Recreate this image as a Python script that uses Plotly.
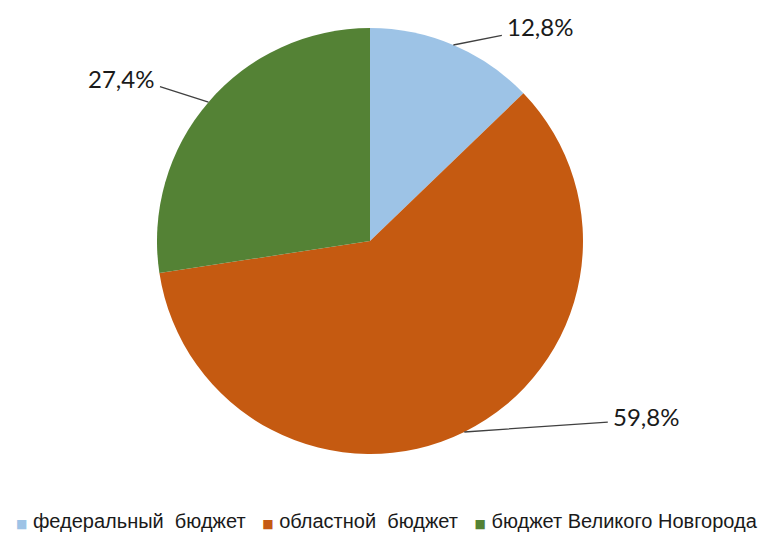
import math
import plotly.graph_objects as go

# ---- data ----
categories = ["федеральный  бюджет", "областной  бюджет", "бюджет Великого Новгорода"]
shares = [12.8, 59.8, 27.4]
label_texts = ["12,8%", "59,8%", "27,4%"]

# ---- style ----
colors = ["#9DC3E6", "#C55A11", "#548235"]
W, H = 760, 534
CX, CY, R = 370, 241, 213            # pie centre / radius in pixels
label_offsets = [(50, -10), (145, -10), (-50, -16)]   # leader-line end offsets (px)
text_lift = [8, 5, 8]
LEGEND_X, LEGEND_Y = 387, 521

fig = go.Figure(go.Pie(
    labels=categories,
    values=shares,
    sort=False,
    direction="clockwise",
    rotation=0,
    marker=dict(colors=colors, line=dict(width=0)),
    textinfo="none",
    hoverinfo="label+percent",
    showlegend=False,
    domain=dict(x=[(CX - R) / W, (CX + R) / W], y=[1 - (CY + R) / H, 1 - (CY - R) / H]),
))

total = sum(shares)
cum = 0
for val, txt, (dx, dy), lift in zip(shares, label_texts, label_offsets, text_lift):
    mid = (cum + val / 2) / total * 2 * math.pi
    cum += val
    px = CX + R * math.sin(mid)
    py = CY - R * math.cos(mid)
    fig.add_annotation(
        x=px / W, y=1 - py / H, xref="paper", yref="paper",
        text="", showarrow=True, arrowhead=0, arrowwidth=1.3, arrowcolor="#404040",
        ax=dx, ay=dy, axref="pixel", ayref="pixel",
    )
    fig.add_annotation(
        x=(px + dx + (2 if dx > 0 else -2)) / W, y=1 - (py + dy - lift) / H, xref="paper", yref="paper",
        text=txt, showarrow=False,
        xanchor="left" if dx > 0 else "right", yanchor="middle",
        font=dict(family="Lato, Open Sans, sans-serif", size=24, color="#1a1a1a"),
    )

# legend built as text: coloured square + category name
items = []
for name, col in zip(categories, colors):
    items.append(
        f'<span style="color:{col};font-family:DejaVu Sans;font-size:12px">■</span>\u00a0'
        + name.replace(" ", "\u00a0")
    )
legend_text = "\u00a0\u00a0\u00a0".join(items)
fig.add_annotation(
    x=LEGEND_X / W, y=1 - LEGEND_Y / H, xref="paper", yref="paper",
    text=legend_text, showarrow=False, xanchor="center", yanchor="middle",
    font=dict(family="Liberation Sans, Arial, sans-serif", size=20, color="#1a1a1a"),
)

fig.update_layout(
    width=W, height=H,
    margin=dict(l=0, r=0, t=0, b=0),
    paper_bgcolor="white",
    plot_bgcolor="white",
    showlegend=False,
)

fig.write_html(
    "out.html",
    config={"displayModeBar": False},
    post_script="document.body.style.margin='0';document.body.style.overflow='hidden';",
)
